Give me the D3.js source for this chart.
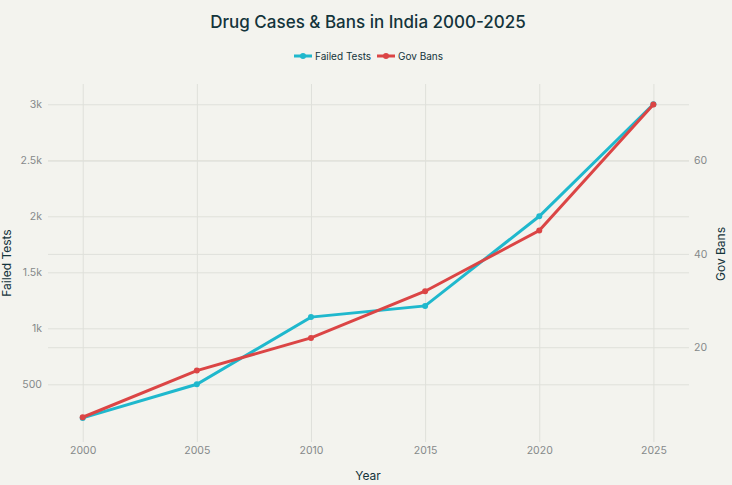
<!DOCTYPE html>
<html>
<head>
<meta charset="utf-8">
<script src="https://cdn.jsdelivr.net/npm/d3@7"></script>
<style>
  body { margin: 0; background: #F3F3EE; }
  svg { display: block; font-family: "Inter", "Liberation Sans", sans-serif; }
  .domain { display: none; }
</style>
</head>
<body>
<svg width="732" height="485"></svg>
<script>
// data
var years = [2000, 2005, 2010, 2015, 2020, 2025];
var failedTests = [200, 500, 1100, 1200, 2000, 3000];
var govBans = [5, 15, 22, 32, 45, 72];

var leftTicks = [500, 1000, 1500, 2000, 2500, 3000];
var leftTickLabels = ["500", "1k", "1.5k", "2k", "2.5k", "3k"];
var rightTicks = [20, 40, 60];

var svg = d3.select("svg"),
    margin = { top: 84, right: 43, bottom: 43, left: 48 },
    width = +svg.attr("width") - margin.left - margin.right,
    height = +svg.attr("height") - margin.top - margin.bottom;

svg.append("rect").attr("width", 732).attr("height", 485).attr("fill", "#F3F3EE");

var g = svg.append("g")
    .attr("transform", "translate(" + margin.left + "," + margin.top + ")");

var x = d3.scaleLinear().domain([1998.48, 2026.56]).range([0, width]);
var yL = d3.scaleLinear().domain([-15, 3181]).range([height, 0]);
var yR = d3.scaleLinear().domain([-0.3, 76.4]).range([height, 0]);

// grid lines
g.append("g")
    .attr("transform", "translate(0," + height + ")")
    .call(d3.axisBottom(x).tickValues(years).tickSize(-height).tickFormat(""))
    .selectAll("line").attr("stroke", "#dfe0da");
g.append("g")
    .call(d3.axisLeft(yL).tickValues(leftTicks).tickSize(-width).tickFormat(""))
    .selectAll("line").attr("stroke", "#dfe0da");
g.append("g")
    .call(d3.axisLeft(yR).tickValues(rightTicks).tickSize(-width).tickFormat(""))
    .selectAll("line").attr("stroke", "#dfe0da");

// tick labels
var xAx = g.append("g")
    .attr("transform", "translate(0," + height + ")")
    .call(d3.axisBottom(x).tickValues(years).tickSize(0).tickPadding(5).tickFormat(d3.format("d")));
var yAxL = g.append("g")
    .call(d3.axisLeft(yL).tickValues(leftTicks).tickSize(0).tickPadding(6)
        .tickFormat(function(d, i) { return leftTickLabels[i]; }));
var yAxR = g.append("g")
    .attr("transform", "translate(" + width + ",0)")
    .call(d3.axisRight(yR).tickValues(rightTicks).tickSize(0).tickPadding(5));
[xAx, yAxL, yAxR].forEach(function(a) {
    a.attr("font-family", null).attr("font-size", null);
    a.selectAll("text").attr("fill", "#85898a").style("font-size", "10.5px");
});

var fData = years.map(function(d, i) { return { year: d, v: failedTests[i] }; });
var bData = years.map(function(d, i) { return { year: d, v: govBans[i] }; });

var series = [
    { data: fData, y: yL, color: "#1FB8CD" },
    { data: bData, y: yR, color: "#DB4545" }
];

series.forEach(function(s) {
    var line = d3.line()
        .x(function(d) { return x(d.year); })
        .y(function(d) { return s.y(d.v); });
    g.append("path")
        .datum(s.data)
        .attr("fill", "none")
        .attr("stroke", s.color)
        .attr("stroke-width", 3)
        .attr("d", line);
    g.selectAll(null)
        .data(s.data)
        .enter().append("circle")
        .attr("cx", function(d) { return x(d.year); })
        .attr("cy", function(d) { return s.y(d.v); })
        .attr("r", 3)
        .attr("fill", s.color);
});

// title
svg.append("text")
    .attr("x", 368).attr("y", 28)
    .attr("text-anchor", "middle")
    .attr("fill", "#13343B")
    .style("font-size", "17px")
    .style("font-weight", "500")
    .text("Drug Cases & Bans in India 2000-2025");

// legend
var legend = [
    { name: "Failed Tests", color: "#1FB8CD", x: 294 },
    { name: "Gov Bans", color: "#DB4545", x: 377 }
];
legend.forEach(function(l) {
    var lg = svg.append("g").attr("transform", "translate(" + l.x + ",56)");
    lg.append("line").attr("x1", 0).attr("x2", 18).attr("stroke", l.color).attr("stroke-width", 3);
    lg.append("circle").attr("cx", 9).attr("r", 3).attr("fill", l.color);
    lg.append("text").attr("x", 21).attr("dy", "0.35em")
        .attr("fill", "#13343B").style("font-size", "10px").text(l.name);
});

// axis titles
svg.append("text")
    .attr("x", 368).attr("y", 480)
    .attr("text-anchor", "middle")
    .attr("fill", "#13343B").style("font-size", "12px")
    .text("Year");
svg.append("text")
    .attr("transform", "translate(11," + (margin.top + height / 2) + ") rotate(-90)")
    .attr("text-anchor", "middle")
    .attr("fill", "#13343B").style("font-size", "12px")
    .text("Failed Tests");
svg.append("text")
    .attr("transform", "translate(725,254) rotate(-90)")
    .attr("text-anchor", "middle")
    .attr("fill", "#13343B").style("font-size", "12px")
    .text("Gov Bans");
</script>
</body>
</html>
